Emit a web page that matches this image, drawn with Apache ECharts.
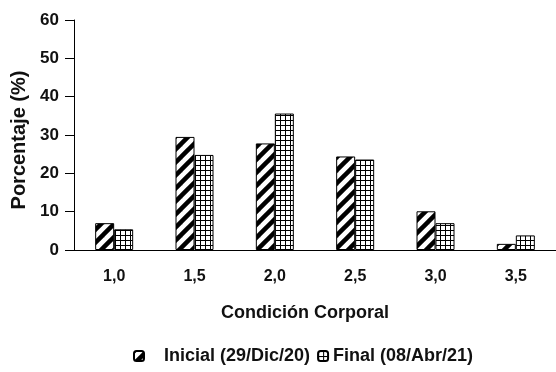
<!DOCTYPE html>
<html>
<head>
<meta charset="utf-8">
<script src="https://cdn.jsdelivr.net/npm/echarts@6/dist/echarts.min.js"></script>
<style>
  html, body { margin: 0; padding: 0; background: #fff; }
  #chart { width: 556px; height: 372px; }
</style>
</head>
<body>
<div id="chart"></div>
<script>
var categories = ['1,0', '1,5', '2,0', '2,5', '3,0', '3,5'];
var inicial = [7.0, 29.5, 27.8, 24.4, 10.1, 1.6];
var final = [5.4, 24.8, 35.6, 23.6, 7.0, 3.8];
var seriesNames = ['Inicial (29/Dic/20)', 'Final (08/Abr/21)'];

var font = 'Liberation Sans';

// patron diagonal "/"
function hatch() {
  var c = document.createElement('canvas');
  c.width = 13; c.height = 13;
  var g = c.getContext('2d');
  g.fillStyle = '#fff';
  g.fillRect(0, 0, 13, 13);
  g.strokeStyle = '#000';
  g.lineWidth = 4.5;
  for (var k = -1; k <= 1; k++) {
    g.beginPath();
    g.moveTo(k * 13 - 2, 15);
    g.lineTo(k * 13 + 15, -2);
    g.stroke();
  }
  return c;
}
// patron cuadricula
function grid() {
  var c = document.createElement('canvas');
  c.width = 5; c.height = 5;
  var g = c.getContext('2d');
  g.fillStyle = '#fff';
  g.fillRect(0, 0, 5, 5);
  g.fillStyle = '#000';
  g.fillRect(0, 0, 5, 1);
  g.fillRect(0, 0, 1, 5);
  return c;
}

var chart = echarts.init(document.getElementById('chart'));
chart.setOption({
  animation: false,
  textStyle: { fontFamily: font, color: '#111' },
  grid: { left: 74, top: 20, width: 485, height: 230 },
  legend: {
    bottom: 7,
    left: 133,
    padding: 0,
    itemWidth: 10,
    itemHeight: 10,
    itemGap: 7,
    formatter: function (n) { return n === seriesNames[0] ? '   ' + n : n; },
    textStyle: { fontFamily: font, fontSize: 18, fontWeight: 'bold', color: '#111' },
    data: seriesNames
  },
  xAxis: {
    type: 'category',
    data: categories,
    name: 'Condición Corporal',
    nameLocation: 'middle',
    nameGap: 54,
    nameTextStyle: { fontFamily: font, fontSize: 18, fontWeight: 'bold', color: '#111', padding: [0, 20, 0, 0] },
    axisLine: { lineStyle: { color: '#000', width: 1 } },
    axisTick: { length: 6, lineStyle: { color: '#000' } },
    axisLabel: { fontSize: 16, fontWeight: 'bold', color: '#111', margin: 19 }
  },
  yAxis: {
    type: 'value',
    min: 0, max: 60, interval: 10,
    name: 'Porcentaje (%)',
    nameLocation: 'middle',
    nameGap: 39,
    nameTextStyle: { fontFamily: font, fontSize: 20, fontWeight: 'bold', color: '#111', padding: [0, 10, 0, 0] },
    splitLine: { show: false },
    axisLine: { show: true, lineStyle: { color: '#000', width: 1 } },
    axisTick: { show: true, length: 9, lineStyle: { color: '#000' } },
    axisLabel: { fontSize: 17, fontWeight: 'bold', color: '#111', margin: 15 }
  },
  series: [
    {
      name: seriesNames[0], type: 'bar', data: inicial,
      barWidth: 19, barGap: '0%',
      itemStyle: { color: { image: hatch(), repeat: 'repeat' }, borderColor: '#000', borderWidth: 1 }
    },
    {
      name: seriesNames[1], type: 'bar', data: final,
      barWidth: 19, barGap: '0%',
      itemStyle: { color: { image: grid(), repeat: 'repeat' }, borderColor: '#000', borderWidth: 1 }
    }
  ]
});
</script>
</body>
</html>
